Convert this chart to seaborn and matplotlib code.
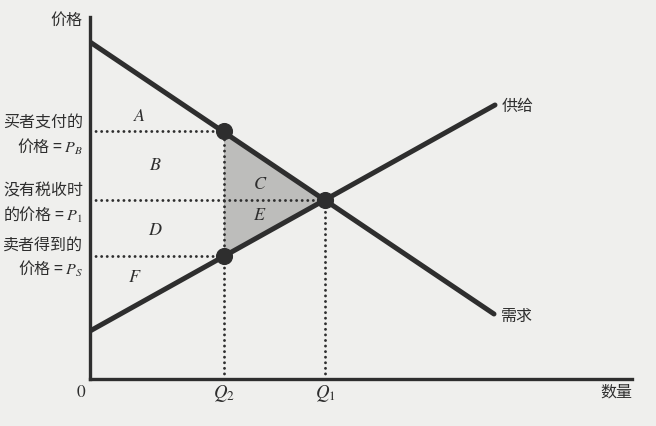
import matplotlib
matplotlib.use("Agg")
import matplotlib.pyplot as plt
import seaborn as sns
import pandas as pd

# curve end points (quantity, price)
demand_q = [0.0, 40.4]
demand_p = [33.7, 6.5]
supply_q = [0.0, 40.5]
supply_p = [4.8, 27.4]

# key quantities and prices
q2, q1 = 13.4, 23.5
p_b, p_1, p_s = 24.8, 17.9, 12.3

# area labels
area_labels = ["A", "B", "C", "D", "E", "F"]
area_x = [5.0, 6.5, 17.0, 6.5, 17.0, 4.5]
area_y = [26.4, 21.5, 19.6, 15.0, 16.5, 10.3]

y_labels = ["买者支付的\n价格 = $P_B$", "没有税收时\n的价格 = $P_1$", "卖者得到的\n价格 = $P_S$"]
y_label_pos = [p_b - 0.35, p_1 - 0.25, p_s - 0.1]

bg = "#efefed"
ink = "#2e2e2e"

sns.set_theme(style="white")
plt.rcParams["font.family"] = ["Noto Sans CJK SC", "DejaVu Sans"]
plt.rcParams["mathtext.fontset"] = "stix"

fig = plt.figure(figsize=(6.56, 4.27), dpi=100, facecolor=bg)
ax = fig.add_axes([90 / 656, 47 / 427, 542 / 656, 362 / 427])
ax.set_facecolor(bg)
ax.set_xlim(0, 54.2)
ax.set_ylim(0, 36.2)

# deadweight loss triangle
ax.fill([q2, q1, q2], [p_b, p_1, p_s], color="#bdbdbb", zorder=1, lw=0)

# dotted guide lines
dot = dict(color=ink, lw=2.1, linestyle=(0, (0.01, 1.9)), dash_capstyle="round", zorder=2)
ax.plot([0, q2], [p_b, p_b], **dot)
ax.plot([0, q1], [p_1, p_1], **dot)
ax.plot([0, q2], [p_s, p_s], **dot)
ax.plot([q2, q2], [0, p_b], **dot)
ax.plot([q1, q1], [0, p_1], **dot)

# supply and demand
curves = pd.DataFrame({
    "q": demand_q + supply_q,
    "p": demand_p + supply_p,
    "curve": ["需求"] * 2 + ["供给"] * 2,
})
sns.lineplot(data=curves, x="q", y="p", hue="curve", palette=[ink, ink],
             linewidth=3.6, legend=False, ax=ax, zorder=3, solid_capstyle="round")

pts = pd.DataFrame({"q": [q2, q2, q1], "p": [p_b, p_s, p_1]})
sns.scatterplot(data=pts, x="q", y="p", color=ink, s=130, edgecolor=ink, ax=ax, zorder=4)

# axes
sns.despine(ax=ax)
for s in ["left", "bottom"]:
    ax.spines[s].set_linewidth(2.4)
    ax.spines[s].set_color(ink)
ax.set_xticks([])
ax.set_yticks([])
ax.set_xlabel("")
ax.set_ylabel("")

fs = 11.5
ax.text(-0.8, 36.0, "价格", ha="right", va="center", fontsize=fs, color=ink)
ax.text(54.2, -1.25, "数量", ha="right", va="center", fontsize=fs, color=ink)
ax.text(-0.4, -1.25, "$0$", ha="right", va="center", fontsize=fs + 1, color=ink)
ax.text(q2, -1.35, "$Q_2$", ha="center", va="center", fontsize=fs + 2, color=ink)
ax.text(q1, -1.35, "$Q_1$", ha="center", va="center", fontsize=fs + 2, color=ink)
ax.text(supply_q[1] + 0.7, supply_p[1], "供给", ha="left", va="center", fontsize=fs, color=ink)
ax.text(demand_q[1] + 0.7, demand_p[1] - 0.1, "需求", ha="left", va="center", fontsize=fs, color=ink)

for lab, y in zip(y_labels, y_label_pos):
    ax.text(-0.7, y, lab, ha="right", va="center", fontsize=fs,
            color=ink, linespacing=1.35)

for lab, x, y in zip(area_labels, area_x, area_y):
    ax.text(x, y, f"${lab}$", ha="center", va="center", fontsize=fs + 1.5, color=ink)

for t in ax.texts:
    t.set_clip_on(False)

fig.savefig("out.png", dpi=100, facecolor=bg)
